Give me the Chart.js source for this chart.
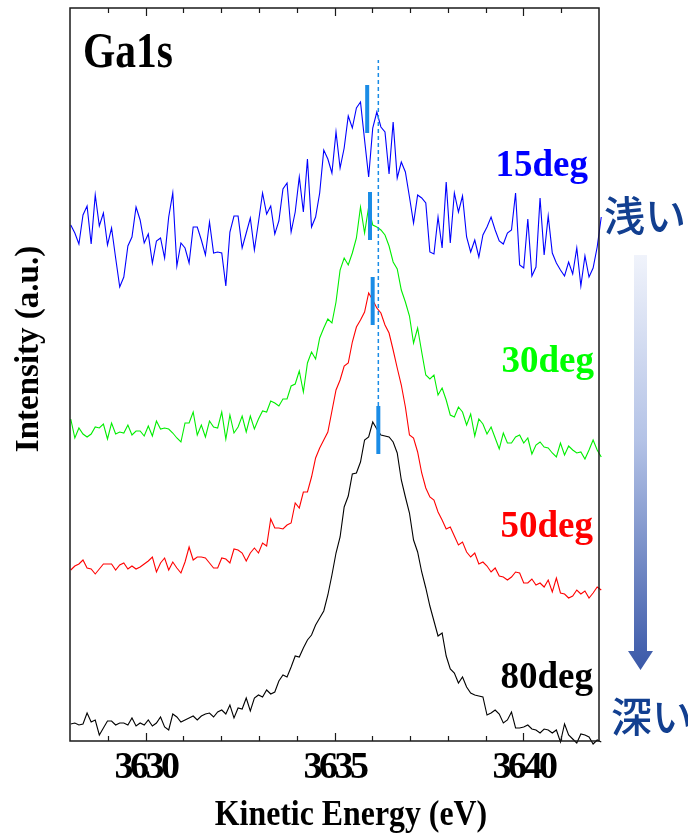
<!DOCTYPE html>
<html>
<head>
<meta charset="utf-8">
<script src="https://cdn.jsdelivr.net/npm/chart.js@4.4.1/dist/chart.umd.min.js"></script>
<style>
  html, body { margin: 0; padding: 0; background: #ffffff; }
  #wrap { width: 688px; height: 834px; position: relative; overflow: hidden; }
</style>
</head>
<body>
<div id="wrap"><canvas id="c" width="688" height="834"></canvas></div>
<script>
// Ga 1s HAXPES spectra at four take-off angles, stacked with vertical offsets.
// Energy sampling: first channel and channel width (eV).
const E_START = 3628.02;
const E_STEP = 0.108;

// Offset intensities (a.u.) per take-off angle.
const int15 = [516,508,497,526,535,497,546,515,528,496,
  513,483,454,464,495,504,534,521,498,507,
  478,500,503,483,524,548,475,498,493,478,
  514,514,501,486,519,488,489,488,455,509,
  525,525,493,508,523,491,519,548,527,535,
  507,520,552,558,509,529,564,529,582,514,
  524,548,591,582,568,609,573,593,625,613,
  633,639,601,564,613,629,614,609,567,619,
  563,579,569,544,518,546,543,538,489,487,
  524,493,559,498,548,529,545,504,489,501,
  484,506,514,524,511,500,497,508,511,548,
  476,473,522,465,474,543,486,525,488,478,
  471,465,479,467,493,455,485,464,473,494,
  524];
const int30 = [322,303,313,307,304,307,314,313,317,302,
  318,307,309,308,316,306,310,310,305,315,
  305,320,312,313,312,308,303,299,318,318,
  329,306,316,304,320,314,313,329,302,326,
  308,314,325,309,325,312,322,330,329,340,
  338,335,342,342,355,357,370,349,378,389,
  382,403,413,422,418,439,471,483,476,488,
  503,534,508,534,516,514,511,506,495,479,
  472,451,439,425,398,413,389,366,362,366,
  346,353,341,326,324,334,329,316,327,305,
  322,317,307,314,303,292,308,298,298,304,
  306,298,303,287,296,299,294,293,288,284,
  298,286,295,291,288,289,282,291,301,291,
  284];
const int50 = [171,175,177,181,173,172,167,172,177,177,
  177,171,176,178,172,175,172,174,177,180,
  184,169,178,183,171,179,173,168,179,194,
  181,184,184,183,178,173,173,183,182,178,
  192,191,188,180,188,193,188,198,195,222,
  213,213,212,216,218,238,233,249,249,264,
  283,293,301,309,330,351,361,375,378,399,
  414,421,429,448,441,433,428,416,408,391,
  373,356,334,306,303,289,268,253,244,241,
  229,221,212,214,205,196,199,189,184,188,
  177,179,175,169,173,165,164,161,164,169,
  168,158,158,162,156,158,154,161,149,163,
  148,147,143,145,151,147,150,143,148,154,
  151];
const int80 = [17,18,16,17,28,19,21,6,13,20,
  20,16,18,18,16,23,15,18,16,21,
  15,18,24,14,11,27,24,19,21,23,
  25,21,25,27,28,24,29,31,27,36,
  23,33,32,43,30,43,46,44,51,47,
  49,60,66,64,74,85,84,93,101,106,
  116,123,130,146,166,188,204,234,245,267,
  268,279,301,304,319,312,306,305,304,299,
  288,261,244,228,201,189,169,153,135,120,
  105,108,85,72,68,58,64,54,48,46,
  45,44,26,28,31,27,18,21,29,13,
  13,14,16,12,11,8,12,11,8,11,
  -1,17,6,2,-2,7,6,4,-3,1,
  -1];

// Series names and colours
const seriesNames = ['15deg', '30deg', '50deg', '80deg'];
const seriesColors = ['#0000ff', '#00ee00', '#ff0000', '#000000'];
const labelColors = ['#0000ff', '#00ff00', '#ff0000', '#000000'];

// Peak-position markers: energy and the vertical extent of each bar
const peakEnergy = [3635.865, 3635.94, 3636.01, 3636.16];
const peakLow  = [608, 501, 416, 287];
const peakHigh = [656, 549, 464, 335];
// Reference line through the bulk (80deg) peak
const refEnergy = 3636.16;
const refLow = 335, refHigh = 681;

// Axis range and labelled ticks
const xMin = 3628, xMax = 3642;
const yMin = 0, yMax = 733;
const xTickLabels = [3630, 3635, 3640];

const energies = int15.map((_, i) => +(E_START + i * E_STEP).toFixed(3));
const toPoints = arr => arr.map((v, i) => ({ x: energies[i], y: v }));

const SERIF = "'Liberation Serif', 'Times New Roman', serif";
const MARK = '#1a8ce6';

const datasets = [];
[int15, int30, int50, int80].forEach((arr, k) => {
  datasets.push({
    label: seriesNames[k],
    data: toPoints(arr),
    borderColor: seriesColors[k],
    borderWidth: 1.1,
    pointRadius: 0,
    tension: 0,
    fill: false,
    clip: false,
    order: 3
  });
});
datasets.push({
  label: 'ref',
  data: [{ x: refEnergy, y: refLow }, { x: refEnergy, y: refHigh }],
  borderColor: MARK,
  borderWidth: 1.5,
  borderDash: [4, 3],
  pointRadius: 0,
  order: 2
});
peakEnergy.forEach((e, k) => {
  datasets.push({
    label: 'peak ' + seriesNames[k],
    data: [{ x: e, y: peakLow[k] }, { x: e, y: peakHigh[k] }],
    borderColor: MARK,
    borderWidth: 4,
    borderCapStyle: 'butt',
    pointRadius: 0,
    order: 1
  });
});

// Frame, inward ticks, labels and the depth arrow
const decor = {
  id: 'decor',
  beforeDraw(chart) {
    chart.ctx.letterSpacing = '-3.5px';
  },
  beforeDatasetsDraw(chart) {
    chart.ctx.letterSpacing = '0px';
  },
  afterDraw(chart) {
    const ctx = chart.ctx;
    const a = chart.chartArea;
    const xs = chart.scales.x;
    ctx.save();
    ctx.letterSpacing = '0px';

    // frame
    ctx.strokeStyle = '#1a1a1a';
    ctx.lineWidth = 1.5;
    ctx.strokeRect(a.left, a.top, a.right - a.left, a.bottom - a.top);

    // inward ticks, top and bottom
    ctx.lineWidth = 1.2;
    ctx.beginPath();
    for (let v = Math.ceil(xMin); v <= Math.floor(xMax); v++) {
      if (v === xMin || v === xMax) continue;
      const px = Math.round(xs.getPixelForValue(v)) + 0.5;
      const len = (v % 5 === 0) ? 8 : 5;
      ctx.moveTo(px, a.bottom); ctx.lineTo(px, a.bottom - len);
      ctx.moveTo(px, a.top); ctx.lineTo(px, a.top + len);
    }
    ctx.stroke();

    // axis titles
    ctx.fillStyle = '#000';
    ctx.textAlign = 'center';
    ctx.textBaseline = 'alphabetic';
    ctx.font = 'bold 35px ' + SERIF;
    ctx.save();
    ctx.translate(351, 825);
    ctx.scale(0.91, 1);
    ctx.fillText('Kinetic Energy (eV)', 0, 0);
    ctx.restore();

    ctx.font = 'bold 33px ' + SERIF;
    ctx.save();
    ctx.translate(38, 349);
    ctx.rotate(-Math.PI / 2);
    ctx.fillText('Intensity (a.u.)', 0, 0);
    ctx.restore();

    // core level
    ctx.font = 'bold 50px ' + SERIF;
    ctx.textAlign = 'left';
    ctx.save();
    ctx.translate(83, 67);
    ctx.scale(0.83, 1);
    ctx.fillText('Ga1s', 0, 0);
    ctx.restore();

    // series labels
    const lab = [[588, 176], [594, 372], [593, 537], [593, 688]];
    ctx.font = 'bold 37px ' + SERIF;
    ctx.textAlign = 'right';
    seriesNames.forEach((n, k) => {
      ctx.fillStyle = labelColors[k];
      ctx.fillText(n, lab[k][0], lab[k][1]);
    });

    // depth arrow
    const sx0 = 634, sx1 = 647, top = 255, headY = 651, tipY = 670;
    const g = ctx.createLinearGradient(0, top, 0, tipY);
    g.addColorStop(0, '#f0f3fb');
    g.addColorStop(0.45, '#b3c2e6');
    g.addColorStop(1, '#3a58a8');
    ctx.fillStyle = g;
    ctx.beginPath();
    ctx.moveTo(sx0, top);
    ctx.lineTo(sx1, top);
    ctx.lineTo(sx1, headY);
    ctx.lineTo(653, headY);
    ctx.lineTo(640.5, tipY);
    ctx.lineTo(628, headY);
    ctx.lineTo(sx0, headY);
    ctx.closePath();
    ctx.fill();

    // shallow / deep
    ctx.fillStyle = '#123f90';
    ctx.textAlign = 'left';
    ctx.textBaseline = 'middle';
    ctx.font = "500 41px 'Noto Sans CJK JP', sans-serif";
    ctx.fillText('浅い', 604, 215);
    ctx.fillText('深い', 611, 716);
    ctx.restore();
  }
};

new Chart(document.getElementById('c'), {
  type: 'line',
  data: { datasets },
  options: {
    responsive: false,
    animation: false,
    devicePixelRatio: 1,
    parsing: true,
    layout: { padding: { top: 8, right: 89, left: 0, bottom: 0 } },
    plugins: { legend: { display: false }, tooltip: { enabled: false } },
    scales: {
      x: {
        type: 'linear',
        position: 'bottom',
        min: xMin,
        max: xMax,
        grid: { display: false, drawTicks: false },
        border: { display: false },
        afterBuildTicks: s => { s.ticks = xTickLabels.map(v => ({ value: v })); },
        afterFit: s => { s.height = 93; },
        ticks: {
          color: '#000',
          padding: 4,
          maxRotation: 0,
          autoSkip: false,
          font: { family: SERIF, size: 38, weight: 'bold' },
          callback: v => String(v)
        }
      },
      y: {
        type: 'linear',
        min: yMin,
        max: yMax,
        grid: { display: false, drawTicks: false },
        border: { display: false },
        ticks: { display: false },
        afterFit: s => { s.width = 70; }
      }
    }
  },
  plugins: [decor]
});
</script>
</body>
</html>
